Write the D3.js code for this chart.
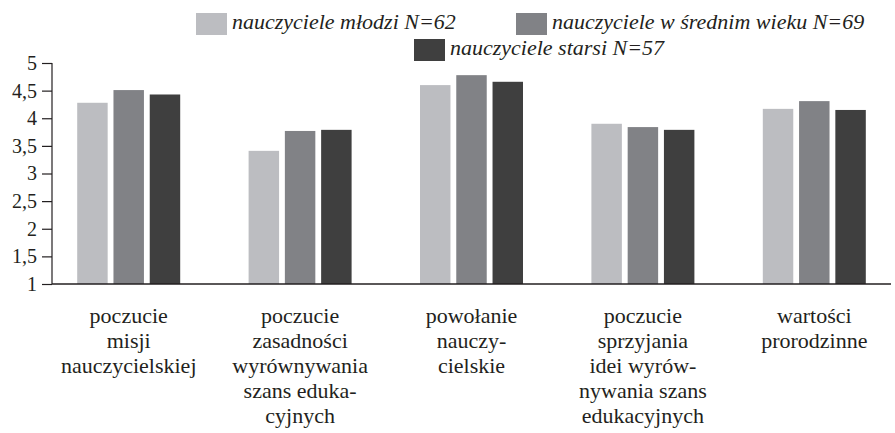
<!DOCTYPE html>
<html>
<head>
<meta charset="utf-8">
<title>Nauczyciele</title>
<script src="https://d3js.org/d3.v7.min.js"></script>
<style>
  body { margin: 0; background: #fff; }
</style>
</head>
<body>
<div id="chart"></div>
<script>
// categories (with the line breaks used in the original)
var categories = [
  ["poczucie", "misji", "nauczycielskiej"],
  ["poczucie", "zasadności", "wyrównywania", "szans eduka-", "cyjnych"],
  ["powołanie", "nauczy-", "cielskie"],
  ["poczucie", "sprzyjania", "idei wyrów-", "nywania szans", "edukacyjnych"],
  ["wartości", "prorodzinne"]
];
var seriesNames = ["nauczyciele młodzi N=62", "nauczyciele w średnim wieku N=69", "nauczyciele starsi N=57"];
var mlodzi = [4.28, 3.41, 4.60, 3.90, 4.17];
var sredni = [4.51, 3.77, 4.78, 3.84, 4.31];
var starsi = [4.43, 3.79, 4.66, 3.79, 4.15];
var yTicks = [1, 1.5, 2, 2.5, 3, 3.5, 4, 4.5, 5];
var colors = ["#bcbdc1", "#818286", "#3f3f3f"];

var series = [mlodzi, sredni, starsi];
var W = 895, H = 433;
// a single family name only
var FONT = "'Times New Roman'";
var INK = "#231f20";

var svg = d3.select("#chart").append("svg")
  .attr("width", W).attr("height", H);

//scales
var x0 = d3.scaleBand().domain(d3.range(categories.length)).range([43, 900]);
var x1 = d3.scaleBand().domain(d3.range(series.length)).range([0, 103]).paddingInner(0.16);
var y = d3.scaleLinear().domain([1, 5]).range([284, 63]);
var groupOffset = (x0.bandwidth() - 103) / 2;

//bars
var groups = svg.selectAll("g.group")
  .data(categories)
  .enter().append("g")
  .attr("class", "group")
  .attr("transform", function(d, i) { return "translate(" + (x0(i) + groupOffset) + ",0)"; });

groups.selectAll("rect")
  .data(function(d, i) { return series.map(function(s, k) { return {k: k, v: s[i]}; }); })
  .enter().append("rect")
  .attr("x", function(d) { return x1(d.k); })
  .attr("width", x1.bandwidth())
  .attr("y", function(d) { return y(d.v); })
  .attr("height", function(d) { return y(1) - y(d.v); })
  .attr("fill", function(d) { return colors[d.k]; });

//y axis
var fmt = function(d) { return String(d).replace(".", ","); };
var yAxis = svg.append("g")
  .attr("transform", "translate(52,0)")
  .call(d3.axisLeft(y).tickValues(yTicks).tickFormat(fmt).tickSize(10).tickPadding(5));
yAxis.attr("font-family", null);
yAxis.select(".domain").attr("stroke", INK).attr("stroke-width", 1.2).attr("d", "M0,63V284");
yAxis.selectAll(".tick line").attr("stroke", INK).attr("stroke-width", 1.2);
yAxis.selectAll(".tick text")
  .style("font-family", FONT)
  .style("font-size", "20px")
  .attr("fill", INK);

//x axis line
svg.append("line")
  .attr("x1", 52).attr("x2", 891)
  .attr("y1", y(1)).attr("y2", y(1))
  .attr("stroke", INK).attr("stroke-width", 1.5);

//category labels
svg.selectAll("text.cat")
  .data(categories)
  .enter().append("text")
  .attr("class", "cat")
  .attr("text-anchor", "middle")
  .attr("fill", INK)
  .style("font-family", FONT)
  .style("font-size", "22px")
  .attr("transform", function(d, i) { return "translate(" + (x0(i) + x0.bandwidth() / 2) + ",323)"; })
  .selectAll("tspan")
  .data(function(d) { return d; })
  .enter().append("tspan")
  .attr("x", 0)
  .attr("y", function(d, j) { return j * 25; })
  .text(function(d) { return d; });

//legend
var legendPos = [[196, 13], [516, 13], [414, 39]];
var legend = svg.selectAll("g.legend")
  .data(seriesNames)
  .enter().append("g")
  .attr("class", "legend")
  .attr("transform", function(d, i) { return "translate(" + legendPos[i][0] + "," + legendPos[i][1] + ")"; });
legend.append("rect")
  .attr("width", 31).attr("height", 22)
  .attr("fill", function(d, i) { return colors[i]; });
legend.append("text")
  .attr("x", 36).attr("y", 15.5)
  .attr("fill", INK)
  .style("font-family", FONT)
  .style("font-size", "22px")
  .style("font-style", "italic")
  .text(function(d) { return d; });
</script>
</body>
</html>
